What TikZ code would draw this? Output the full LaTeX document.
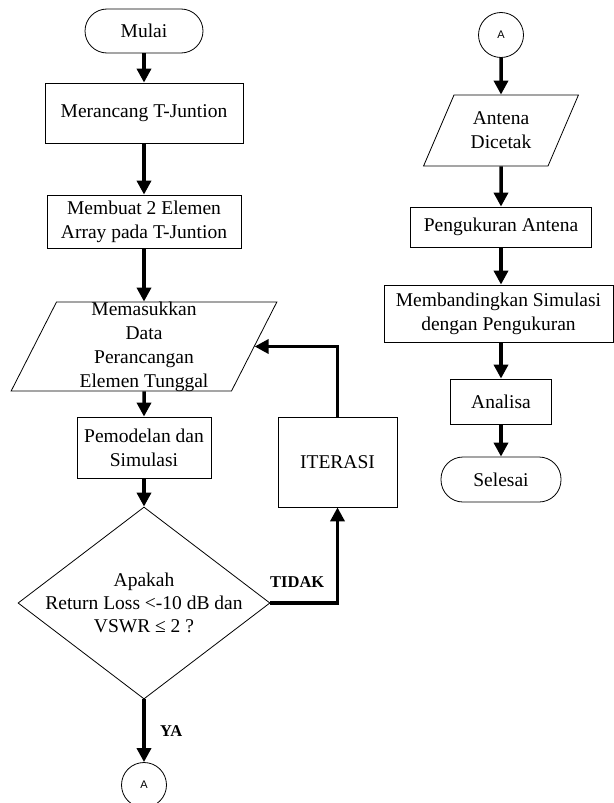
\documentclass[tikz,border=0pt]{standalone}
\usepackage{fontspec}
\setmainfont{Liberation Serif}
\newfontfamily\konektorfont{Liberation Sans}
\usetikzlibrary{arrows.meta}
\usetikzlibrary{shapes.geometric}

\tikzset{
  terminal/.style={draw, rectangle, rounded corners=22pt, line width=0.8pt, inner sep=0pt},
  proses/.style={draw, rectangle, align=center, line width=0.8pt, inner sep=0pt},
  data/.style={draw, trapezium, trapezium left angle=63, trapezium right angle=117,
    trapezium stretches=true, align=center, line width=0.8pt, inner sep=2pt},
  keputusan/.style={draw, diamond, line width=0.8pt, inner sep=2pt},
  konektor/.style={draw, circle, minimum size=45pt, line width=0.8pt, inner sep=0pt,
    font=\konektorfont\fontsize{11}{13}\selectfont},
  alur/.style={->, line width=3.5pt},
  cabang/.style={font=\bfseries\fontsize{16.5}{19}\selectfont}
}

\begin{document}
\begin{tikzpicture}[x=1pt, y=-1pt, >={Triangle[length=14pt, width=14pt]},
  font=\fontsize{19.5}{24}\selectfont]

\useasboundingbox (0,0) rectangle (613,803);

% kolom kiri
\node [terminal, minimum width=118pt, minimum height=44pt] (mulai) at (144,31) {Mulai};
\node [proses, minimum width=198pt, minimum height=60pt] (merancang) at (144,113) {Merancang T-Juntion};
\node [proses, minimum width=194pt, minimum height=53pt] (membuat) at (144,221.5) {Membuat 2 Elemen\\Array pada T-Juntion};
\node [data, text width=171pt, text height=85pt,
  label={[align=center]center:Memasukkan\\Data\\Perancangan\\Elemen Tunggal}] (masukan) at (144,346.5) {};
\node [proses, minimum width=134pt, minimum height=61pt] (pemodelan) at (144,447.5) {Pemodelan dan\\Simulasi};
\node [keputusan, minimum width=252pt, minimum height=192pt,
  label={[align=center, font=\fontsize{19.5}{23}\selectfont]center:Apakah\\Return Loss <-10 dB dan\\VSWR ≤ 2 ?}] (cek) at (144,603) {};
\node [proses, minimum width=119pt, minimum height=90pt] (iterasi) at (337.5,462) {ITERASI};
\node [konektor] (konektor-1) at (144,785) {A};

% kolom kanan
\node [konektor] (konektor-2) at (501,35) {A};
\node [data, minimum width=155pt, minimum height=71pt] (antena) at (501,130.5) {Antena\\Dicetak};
\node [proses, minimum width=181pt, minimum height=40pt] (pengukuran) at (501,227) {Pengukuran Antena};
\node [proses, minimum width=229pt, minimum height=57pt] (membandingkan) at (498.5,313.5) {Membandingkan Simulasi\\dengan Pengukuran};
\node [proses, minimum width=101pt, minimum height=45pt] (analisa) at (501,401.5) {Analisa};
\node [terminal, minimum width=120pt, minimum height=45pt] (selesai) at (501,479.5) {Selesai};

\foreach \a/\b in {mulai/merancang, merancang/membuat, membuat/masukan, masukan/pemodelan, pemodelan/cek,
  konektor-2/antena, antena/pengukuran, analisa/selesai}
  \draw [alur] (\a) -- (\b);

\draw [alur] (pengukuran) -- (pengukuran |- membandingkan.north);
\draw [alur] (membandingkan.south -| analisa) -- (analisa);

\draw [alur] (cek) -- (konektor-1)
  node [cabang, right=11pt, midway] {YA};
\draw [alur] (cek.east) -| (iterasi)
  node [cabang, above=10pt, pos=0.2] {TIDAK};
\draw [alur] (iterasi) |- (masukan.east);

\end{tikzpicture}
\end{document}
